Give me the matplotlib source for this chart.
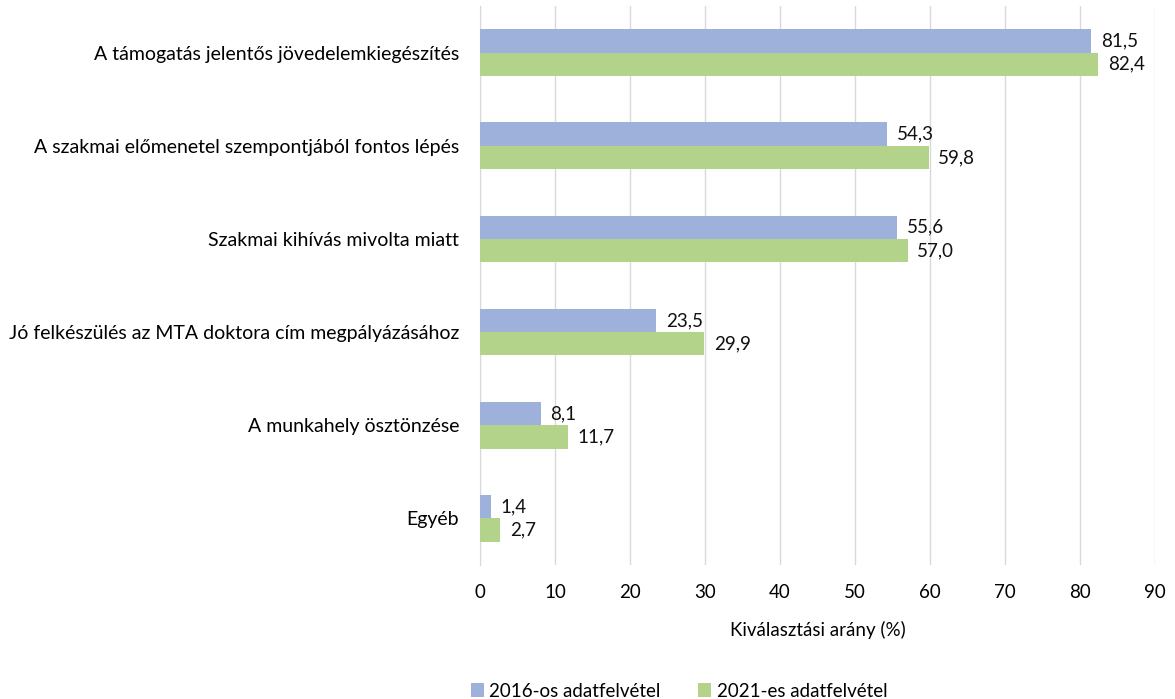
import matplotlib
matplotlib.use("Agg")
import matplotlib.pyplot as plt
import numpy as np

categories = [
    "A támogatás jelentős jövedelemkiegészítés",
    "A szakmai előmenetel szempontjából fontos lépés",
    "Szakmai kihívás mivolta miatt",
    "Jó felkészülés az MTA doktora cím megpályázásához",
    "A munkahely ösztönzése",
    "Egyéb",
]
values_2016 = [81.5, 54.3, 55.6, 23.5, 8.1, 1.4]
values_2021 = [82.4, 59.8, 57.0, 29.9, 11.7, 2.7]
series_names = ["2016-os adatfelvétel", "2021-es adatfelvétel"]
xticks = [0, 10, 20, 30, 40, 50, 60, 70, 80, 90]

plt.rcParams['font.family'] = ['Lato', 'DejaVu Sans']

fig = plt.figure(figsize=(11.75, 6.99), dpi=100)
ax = fig.add_axes([480/1175, 1-565/699, 675/1175, 559/699])

y = np.arange(len(categories))
h = 0.25
c1 = "#9DB1DB"
c2 = "#B3D38B"
b1 = ax.barh(y - h/2, values_2016, height=h, color=c1, label=series_names[0], zorder=3)
b2 = ax.barh(y + h/2, values_2021, height=h, color=c2, label=series_names[1], zorder=3)

def fmt(v):
    return f"{v:.1f}".replace(".", ",")

for bars, vals in ((b1, values_2016), (b2, values_2021)):
    for rect, v in zip(bars, vals):
        ax.annotate(fmt(v), (v, rect.get_y() + rect.get_height()/2),
                    xytext=(7, 0), textcoords="offset points",
                    va="center", ha="left", fontsize=13.5, color="#111111")

ax.set_ylim(len(categories) - 0.5, -0.5)
ax.set_xlim(0, 90)
ax.set_xticks(xticks)
ax.set_xticklabels([str(t) for t in xticks], fontsize=13.5)
ax.set_yticks(y)
ax.set_yticklabels(categories, fontsize=14)
ax.tick_params(axis="both", length=0)
ax.tick_params(axis="y", pad=15)
ax.tick_params(axis="x", pad=14)
ax.xaxis.grid(True, color="#D9D9D9", linewidth=1, zorder=0)
for s in ["top", "right", "bottom"]:
    ax.spines[s].set_visible(False)
ax.spines["left"].set_color("#D9D9D9")
ax.set_xlabel("Kiválasztási arány (%)", fontsize=13.5, labelpad=14)

fig.legend(handles=[b1, b2], labels=series_names, loc="lower center",
           bbox_to_anchor=(0.578, -0.025), ncol=2, frameon=False, fontsize=13.5,
           handlelength=0.7, handleheight=0.7, handletextpad=0.3, columnspacing=2.0)

fig.savefig("out.png", dpi=100)
